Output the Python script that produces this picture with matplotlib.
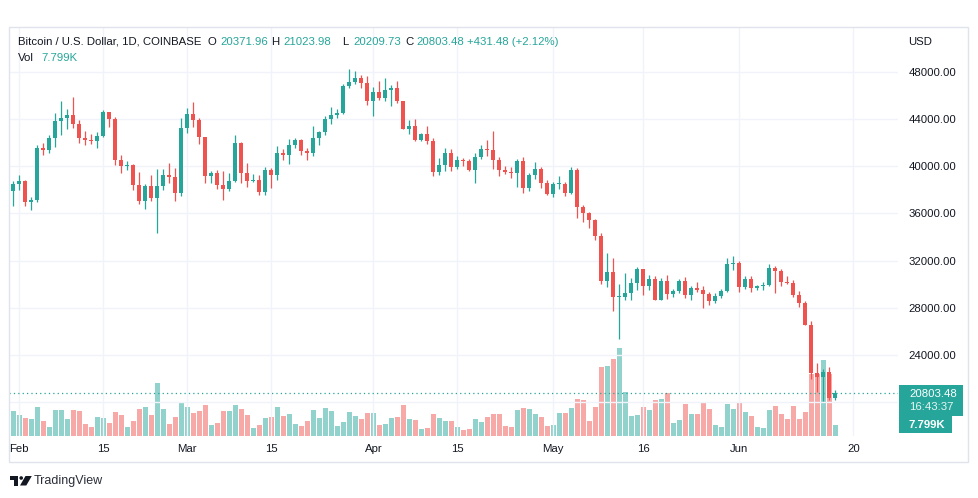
import numpy as np
import pandas as pd
import matplotlib
matplotlib.use('Agg')
import matplotlib.pyplot as plt
import matplotlib.dates as mdates
from matplotlib.patches import Rectangle, Polygon, Ellipse

plt.rcParams['font.family'] = ['Liberation Sans', 'DejaVu Sans']

W, H = 979, 498
UP = '#26a69a'
DOWN = '#ef5350'
UP_VOL = '#92d2cc'
DOWN_VOL = '#f7a9a7'
TEXT = '#131722'
GRID = '#f0f3fa'

# daily BTC/USD candles, 2022-01-31 .. 2022-06-17 (last one still open)
open_ = [37920, 38480, 38740, 36950, 37150, 41570, 41380, 42410, 43840, 44120, 44350, 43550, 42400, 42200, 42090,
         42590, 44580, 43960, 40540, 40030, 40120, 38430, 37070, 38290, 37300, 38330, 39220, 39120, 37710,
         43190, 44420, 43920, 42450, 39150, 39400, 38420, 38060, 38740, 41980, 39440, 38730, 38810, 37790, 39670,
         39280, 41140, 40950, 41800, 42190, 41250, 41080, 42370, 42890, 43960, 44350, 44500, 46820, 47130, 47460, 47060,
         45540, 46280, 45810, 46410, 46580, 45500, 43170, 43440, 42250, 42760, 42160, 39530, 40070, 41150, 39940,
         40550, 40400, 39700, 40800, 41490, 41370, 40480, 39710, 39470, 39450, 40430, 38110, 39240, 39740, 38600,
         37640, 38470, 38530, 37750, 39690, 36550, 36010, 35470, 34060, 30300, 31020, 28940, 28960, 29280, 30080,
         31300, 29850, 30420, 28690, 30300, 29200, 29430, 30280, 29100, 29650, 29540, 29200, 28620, 29020, 29450, 31730,
         31790, 29800, 30450, 29700, 29860, 29910, 31370, 31130, 30200, 30110, 29090, 28420, 26570, 22490, 22150,
         22580, 20371.96]
high = [38740, 39270, 38850, 37390, 41770, 41950, 42660, 44500, 45490, 44800, 45850, 43940, 42990, 42740, 42870,
        44770, 44580, 44190, 40970, 40460, 40150, 39490, 38450, 39280, 39720, 39730, 40300, 39860, 44070,
        44950, 45400, 44100, 42500, 39630, 39690, 39550, 39380, 42600, 42050, 40240, 39310, 39270, 39920, 39880,
        41720, 41480, 42330, 42400, 42300, 41550, 43360, 42990, 44210, 45050, 44820, 46950, 48190, 48100, 47700, 47600,
        46700, 47200, 47440, 46880, 47210, 45500, 43900, 43970, 42800, 43420, 42420, 40700, 41550, 41490, 40860,
        40690, 40600, 41100, 41760, 42200, 42980, 40790, 40000, 39930, 40610, 40800, 39450, 40370, 39900, 38800,
        38680, 39170, 38650, 39900, 39840, 36680, 36150, 35500, 34300, 32650, 32190, 30030, 30980, 30500, 31420,
        31320, 30750, 30670, 30500, 30750, 29600, 30420, 30650, 29830, 30180, 29840, 29380, 29220, 29560, 32200, 32380,
        31960, 30680, 30660, 29950, 30160, 31750, 31550, 31330, 30680, 30360, 29450, 28560, 26880, 23350, 22800,
        22970, 21023.98]
low = [36630, 38010, 36630, 36270, 36990, 40980, 41150, 41650, 42660, 43160, 43190, 42000, 41760, 41880, 41580,
       42430, 43330, 40080, 39460, 39650, 38020, 36800, 36350, 37040, 34320, 38020, 38580, 37010, 37460,
       42840, 43350, 41850, 38600, 38600, 38100, 37160, 37870, 38660, 38550, 38230, 38660, 37590, 37590, 38110,
       38830, 40520, 40150, 41520, 40920, 40500, 40900, 41800, 42600, 43590, 44090, 44420, 46650, 46980, 46600, 45200,
       44210, 45630, 45530, 45120, 45350, 43130, 42730, 42120, 42130, 41900, 39200, 39250, 39560, 39560, 39770,
       40020, 39550, 38540, 40570, 40850, 39770, 39190, 39300, 38990, 38200, 37700, 37870, 38880, 38180, 37580,
       37380, 38050, 37500, 37600, 35600, 35250, 34780, 33720, 30050, 29740, 27700, 25400, 28700, 28640, 29500,
       29100, 29480, 28650, 28660, 28720, 28950, 29240, 28860, 28700, 29340, 28020, 28270, 28450, 28820, 29300, 31200,
       29310, 29580, 29370, 29480, 29510, 29880, 29230, 29850, 29990, 28880, 28110, 26560, 22000, 20850, 20070,
       20230, 20209.73]
close = [38480, 38740, 36950, 37150, 41570, 41380, 42410, 43840, 44120, 44350, 43550, 42400, 42200, 42090, 42590,
         44580, 43960, 40540, 40030, 40120, 38430, 37070, 38290, 37300, 38330, 39220, 39120, 37710, 43190,
         44420, 43920, 42450, 39150, 39400, 38420, 38060, 38740, 41980, 39440, 38730, 38810, 37790, 39670, 39280,
         41140, 40950, 41800, 42190, 41250, 41080, 42370, 42890, 43960, 44350, 44500, 46820, 47130, 47460, 47060, 45540,
         46280, 45810, 46410, 46580, 45500, 43170, 43440, 42250, 42760, 42160, 39530, 40070, 41150, 39940, 40550,
         40400, 39700, 40800, 41490, 41370, 40480, 39710, 39470, 39450, 40430, 38110, 39240, 39740, 38600, 37640,
         38470, 38530, 37750, 39690, 36550, 36010, 35470, 34060, 30300, 31020, 28940, 28960, 29280, 30080, 31300,
         29850, 30420, 28690, 30300, 29200, 29430, 30280, 29100, 29650, 29540, 29200, 28620, 29020, 29450, 31730, 31790,
         29800, 30450, 29700, 29860, 29910, 31370, 31130, 30200, 30110, 29090, 28420, 26570, 22490, 22150, 22580,
         20372.00, 20803.48]
# volume in thousands of BTC
volume = [17.7, 14.9, 12.5, 11.8, 20.6, 10.6, 6.4, 18.4, 18.4, 11.8, 18.4, 17.7, 8.7, 6.4, 13.5, 12.8, 9.2, 17.0,
          14.9, 6.4, 10.6, 19.1, 20.6, 14.9, 37.6, 19.1, 8.5, 13.5, 23.4,
          20.6, 16.3, 17.7, 22.0, 7.8, 9.2, 17.7, 17.7, 22.0, 19.1, 14.9, 5.7, 7.8, 12.8, 13.5, 20.6, 14.2, 15.6, 8.5,
          7.1, 10.6, 18.4, 12.8, 19.9, 17.7, 7.1, 9.9, 17.0, 14.2, 12.1, 16.3,
          16.3, 7.8, 8.5, 12.8, 13.5, 22.0, 12.1, 11.3, 5.0, 5.7, 15.6, 12.8, 10.6, 10.6, 6.4, 4.3, 5.0, 12.1, 9.9,
          13.5, 15.6, 15.6, 7.1, 6.4, 18.4, 19.9, 19.1, 15.6, 13.5, 7.1,
          7.8, 16.3, 16.3, 19.9, 26.2, 25.5, 10.6, 20.6, 48.9, 49.6, 54.6, 62.4, 31.2, 14.2, 14.9, 20.6, 18.4, 25.5,
          26.2, 30.5, 9.2, 11.3, 22.7, 15.6, 15.6, 24.1, 19.1, 7.8, 6.4, 22.7, 19.1,
          24.1, 17.0, 14.2, 6.4, 5.7, 18.4, 21.3, 15.6, 12.1, 21.3, 12.1, 17.0, 44.0, 44.0, 53.9, 44.0, 7.799]

tick_dates = ['2022-02-01', '2022-02-15', '2022-03-01', '2022-03-15', '2022-04-01', '2022-04-15',
              '2022-05-01', '2022-05-16', '2022-06-01', '2022-06-20']
tick_labels = ['Feb', '15', 'Mar', '15', 'Apr', '15', 'May', '16', 'Jun', '20']
price_ticks = [20000, 24000, 28000, 32000, 36000, 40000, 44000, 48000]

o = np.array(open_)
h = np.array(high)
l = np.array(low)
c = np.array(close)
v = np.array(volume)
dates = pd.date_range('2022-01-31', periods=len(c), freq='D')
x = mdates.date2num(dates)
up = c >= o


def fx(px):
    return px / W


def fy(py):
    return 1 - py / H


fig = plt.figure(figsize=(W / 100, H / 100), dpi=100)
fig.patch.set_facecolor('white')
rect = [fx(9), fy(436), (898 - 9) / W, (436 - 27) / H]
xlim = (x[0] - 0.72, x[0] + 147.45)

# volume pane underneath
ax_vol = fig.add_axes(rect)
ax_vol.bar(x, v, width=0.82, color=np.where(up, UP_VOL, DOWN_VOL), linewidth=0)
ax_vol.set_xlim(*xlim)
ax_vol.set_ylim(0, 290)
ax_vol.axis('off')

# price pane on top
ax = fig.add_axes(rect)
ax.patch.set_visible(False)
cols = np.where(up, UP, DOWN)
ax.vlines(x, l, h, colors=cols, linewidth=0.9, zorder=2)
body_lo = np.minimum(o, c)
body_h = np.maximum(np.abs(c - o), 90)
ax.bar(x, body_h, bottom=body_lo, width=0.72, color=cols, linewidth=0, zorder=3)
ax.axhline(c[-1], color=UP, linewidth=0.9, linestyle=(0, (1, 2.5)), zorder=1)

ax.set_xlim(*xlim)
ax.set_ylim(17146, 51786)
ax.set_xticks(mdates.date2num(pd.to_datetime(tick_dates)))
ax.set_xticklabels(tick_labels)
ax.set_yticks(price_ticks)
ax.set_yticklabels(['' if p == 20000 else f'{p:.2f}' for p in price_ticks])
ax.yaxis.tick_right()
ax.tick_params(axis='y', length=0, pad=7.4, labelsize=8.2, labelcolor=TEXT)
ax.tick_params(axis='x', length=0, pad=5.6, labelsize=8.2, labelcolor=TEXT)
ax.grid(True, color=GRID, linewidth=1, zorder=0)
ax.set_axisbelow(True)
for s in ax.spines.values():
    s.set_visible(False)

# widget border
fig.patches.append(Rectangle((fx(9), fy(462)), (968 - 9) / W, (462 - 27) / H, transform=fig.transFigure,
                             fill=False, edgecolor='#e0e3eb', linewidth=1))

# legend line
fs = 8.2
fig.text(fx(18), fy(42), 'Bitcoin / U.S. Dollar, 1D, COINBASE', va='center', ha='left', fontsize=fs, color=TEXT)
chg = c[-1] - c[-2]
parts = [(208, 'O', TEXT), (220, f'{o[-1]:.2f}', UP), (271, 'H', TEXT), (283, f'{h[-1]:.2f}', UP),
         (342, 'L', TEXT), (353, f'{l[-1]:.2f}', UP), (405, 'C', TEXT), (416, f'{c[-1]:.2f}', UP),
         (467, f'{chg:+.2f} ({chg / c[-2] * 100:+.2f}%)', UP)]
for px, txt, col in parts:
    fig.text(fx(px), fy(42), txt, va='center', ha='left', fontsize=fs, color=col)
fig.text(fx(18), fy(58), 'Vol', va='center', ha='left', fontsize=fs, color=TEXT)
fig.text(fx(41), fy(58), f'{v[-1]:.3f}K', va='center', ha='left', fontsize=fs, color=UP)
fig.text(fx(908), fy(42), 'USD', va='center', ha='left', fontsize=fs, color=TEXT)

# last price / countdown / volume tags
fig.patches.append(Rectangle((fx(899), fy(416)), 64 / W, 31 / H, transform=fig.transFigure,
                             color=UP, linewidth=0, zorder=5))
fig.patches.append(Rectangle((fx(899), fy(433)), 53 / W, 17 / H, transform=fig.transFigure,
                             color=UP, linewidth=0, zorder=5))
fig.text(fx(909), fy(393.5), f'{c[-1]:.2f}', va='center', ha='left', fontsize=fs, color='white', zorder=6)
fig.text(fx(909), fy(407), '16:43:37', va='center', ha='left', fontsize=fs, color='#e6f4f2', zorder=6)
fig.text(fx(909), fy(425), f'{v[-1]:.3f}K', va='center', ha='left', fontsize=fs, color='white',
         fontweight='bold', zorder=6)

# TradingView logo
logo = '#131722'
fig.patches.append(Polygon([(fx(10), fy(476)), (fx(18.5), fy(476)), (fx(18.5), fy(485.5)), (fx(14.5), fy(485.5)),
                            (fx(14.5), fy(480)), (fx(10), fy(480))], closed=True, transform=fig.transFigure,
                           color=logo, linewidth=0))
fig.patches.append(Ellipse((fx(21.2), fy(478)), 3.6 / W, 3.6 / H, transform=fig.transFigure, color=logo,
                           linewidth=0))
fig.patches.append(Polygon([(fx(25.5), fy(476)), (fx(31.8), fy(476)), (fx(26.3), fy(485.5)), (fx(20), fy(485.5))],
                           closed=True, transform=fig.transFigure, color=logo, linewidth=0))
fig.text(fx(34), fy(481), 'TradingView', va='center', ha='left', fontsize=9, color='#2a2e39')

fig.savefig('out.png', dpi=100)
